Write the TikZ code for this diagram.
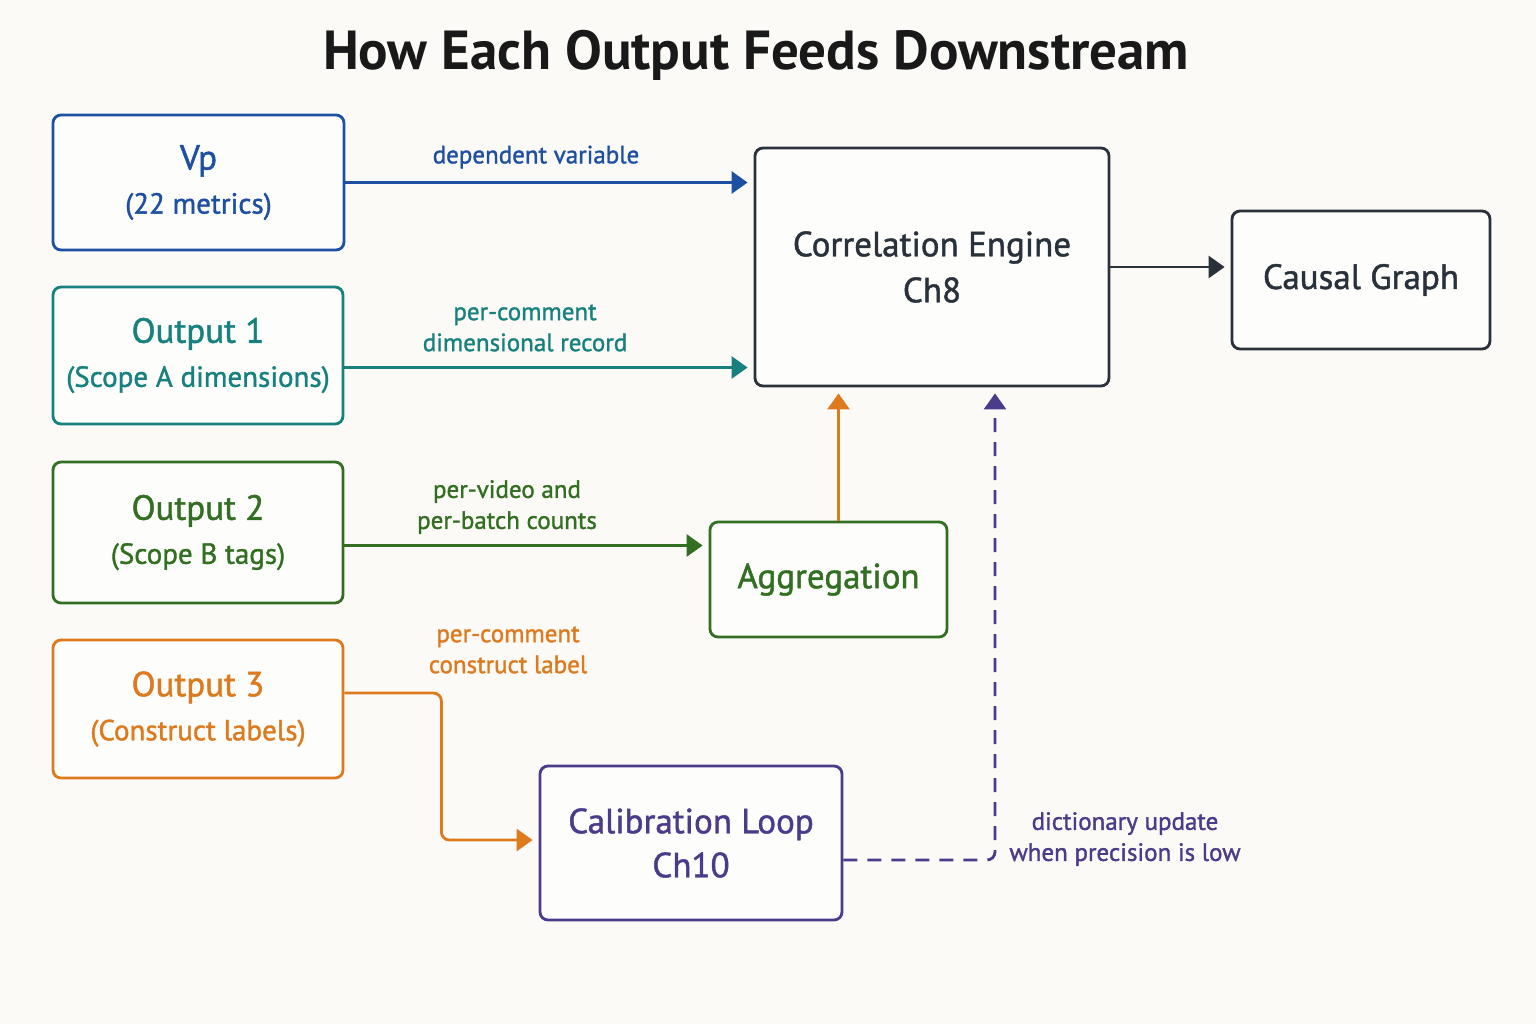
\documentclass[tikz,border=0pt]{standalone}
\usepackage{fontspec}
\setmainfont{PT Sans}
\newfontfamily\medfont[FakeBold=1.3]{PT Sans}
\usetikzlibrary{arrows.meta,positioning}

\definecolor{paper}{HTML}{FBFAF6}
\definecolor{vpblue}{HTML}{1D4FA3}
\definecolor{oteal}{HTML}{17817F}
\definecolor{ogreen}{HTML}{336F22}
\definecolor{oorange}{HTML}{DD7A1E}
\definecolor{cpurple}{HTML}{4A3B8B}
\definecolor{ink}{HTML}{29313B}

\newcommand{\subline}[1]{{\fontsize{14.5}{22}\selectfont #1}}

\begin{document}
\begin{tikzpicture}[x=0.5pt, y=-0.5pt, >={Triangle[length=8pt,width=11pt]},
    box/.style={draw=#1, text=#1, line width=1.4pt, rounded corners=4pt, fill=white!60!paper,
                align=center, font=\medfont\fontsize{17.5}{22}\selectfont, inner sep=0pt},
    flow/.style={->, line width=1.4pt, shorten >=3pt},
    lbl/.style={align=center, font=\medfont\fontsize{12.5}{15.5}\selectfont}]
    % Page
    \fill[paper] (0,0) rectangle (1536,1024);
    \useasboundingbox (0,0) rectangle (1536,1024);
    \node[text=black!90] (title) at (756,55) {\bfseries\fontsize{27.5}{32}\selectfont How Each Output Feeds Downstream};
    % Inputs
    \node[box=vpblue, minimum width=145.5pt, minimum height=67.5pt] (vp) at (198.5,182.5)
        {Vp\\\subline{(22 metrics)}};
    \node[box=oteal, minimum width=145pt, minimum height=68.5pt] (out1) at (198,355.5)
        {Output 1\\\subline{(Scope A dimensions)}};
    \node[box=ogreen, minimum width=145pt, minimum height=70.5pt] (out2) at (198,532.5)
        {Output 2\\\subline{(Scope B tags)}};
    \node[box=oorange, minimum width=145pt, minimum height=69pt] (out3) at (198,709)
        {Output 3\\\subline{(Construct labels)}};
    % Downstream
    \node[box=ink, minimum width=177pt, minimum height=119pt] (engine) at (932,267)
        {Correlation Engine\\[1pt]Ch8};
    \node[box=ink, minimum width=129pt, minimum height=69pt] (causal) at (1361,280)
        {Causal Graph};
    \node[box=ogreen, minimum width=118.5pt, minimum height=57.5pt] (agg) at (828.5,579.5)
        {Aggregation};
    \node[box=cpurple, minimum width=151pt, minimum height=77pt] (calib) at (691,843)
        {Calibration Loop\\Ch10};
    % Connectors
    \draw[flow, vpblue] (vp.east) -- (vp.east -| engine.west);
    \node[lbl, vpblue] (lvp) at (536,157) {dependent variable};
    \draw[flow, oteal] ([yshift=-6pt]out1.east) -- ([yshift=-6pt]out1.east -| engine.west);
    \node[lbl, oteal] (lout1) at (525,328) {per-comment\\dimensional record};
    \draw[flow, ogreen] ([yshift=-6.5pt]out2.east) -- ([yshift=-6.5pt]out2.east -| agg.west);
    \node[lbl, ogreen] (lout2) at (507,507) {per-video and\\per-batch counts};
    \draw[flow, oorange, rounded corners=4pt] ([yshift=8pt]out3.east) -- ++(48.5pt,0) |- ([yshift=1.5pt]calib.west);
    \node[lbl, oorange] (lout3) at (508,650) {per-comment\\construct label};
    \draw[flow, oorange] ([xshift=5pt]agg.north) -- ([xshift=5pt]agg.north |- engine.south);
    \draw[flow, cpurple, dashed, dash pattern=on 7pt off 5pt, rounded corners=4pt]
        ([yshift=-8.5pt]calib.east) -| ([xshift=31.5pt]engine.south);
    \node[lbl, cpurple] (lcalib) at (1125,839) {dictionary update\\when precision is low};
    \draw[flow, ink] (engine.east) -- (engine.east -| causal.west);
\end{tikzpicture}
\end{document}
